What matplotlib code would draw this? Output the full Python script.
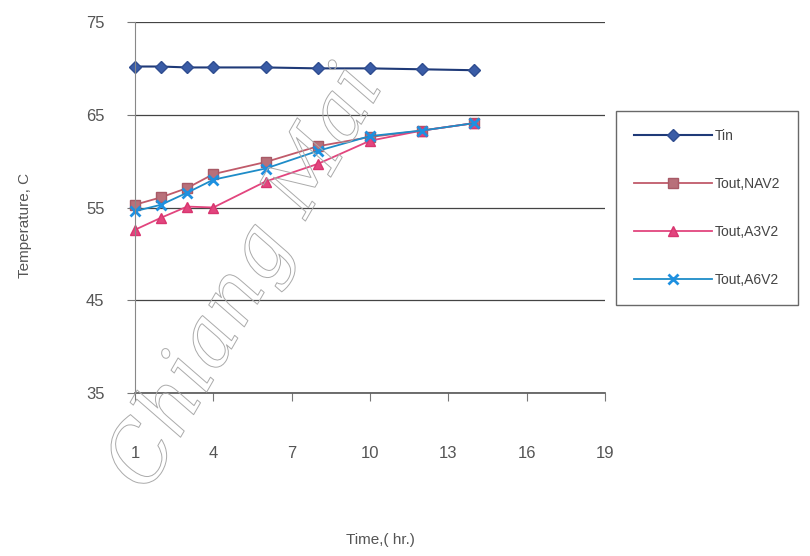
import numpy as np
import matplotlib
matplotlib.use("Agg")
import matplotlib.pyplot as plt
import matplotlib.patheffects as pe

# time, hr
time_hr = [1, 2, 3, 4, 6, 8, 10, 12, 14]
t_in = [70.2, 70.2, 70.1, 70.1, 70.1, 70.0, 70.0, 69.9, 69.8]
t_nav2 = [55.3, 56.1, 57.1, 58.6, 59.9, 61.6, 62.6, 63.3, 64.1]
t_a3v2 = [52.6, 53.9, 55.1, 55.0, 57.8, 59.7, 62.2, 63.3, 64.1]
t_a6v2 = [54.6, 55.3, 56.6, 58.0, 59.2, 61.1, 62.7, 63.3, 64.1]

x_ticks = [1, 4, 7, 10, 13, 16, 19]
y_ticks = [35, 45, 55, 65, 75]

plt.rcParams['font.family'] = ['Liberation Sans', 'DejaVu Sans']
txt = '#555555'

fig = plt.figure(figsize=(8.1, 5.56), dpi=100)
ax = fig.add_axes([135 / 810, 1 - 393 / 556, 470 / 810, 371 / 556])

ax.plot(time_hr, t_in, color='#1F3A78', marker='D', markersize=6,
        markerfacecolor='#3A5CA6', markeredgecolor='#2F4D90', lw=1.5,
        label='Tin', clip_on=False)
ax.plot(time_hr, t_nav2, color='#C05A6A', marker='s', markersize=7,
        markerfacecolor='#B8707A', markeredgecolor='#A85A66', lw=1.3,
        label='Tout,NAV2', clip_on=False)
ax.plot(time_hr, t_a3v2, color='#E2457E', marker='^', markersize=7,
        markerfacecolor='#E2457E', markeredgecolor='#D8356F', lw=1.3,
        label='Tout,A3V2', clip_on=False)
ax.plot(time_hr, t_a6v2, color='#1E8CC8', marker='x', markersize=7,
        markeredgewidth=2, markeredgecolor='#1E90E0', lw=1.3,
        label='Tout,A6V2', clip_on=False)

ax.set_xlim(1, 19)
ax.set_ylim(35, 75)
ax.set_xticks(x_ticks)
ax.set_yticks(y_ticks)
ax.yaxis.grid(True, color='#444444', lw=0.9)
ax.set_axisbelow(True)
for s in ['top', 'right']:
    ax.spines[s].set_visible(False)
ax.spines['left'].set_color('#888888')
ax.spines['bottom'].set_color('#555555')
ax.spines['bottom'].set_linewidth(1.2)
ax.tick_params(axis='x', direction='out', length=6, pad=32, colors='#777777',
               labelcolor=txt, labelsize=12)
ax.tick_params(axis='y', direction='out', length=6, pad=16, colors='#777777',
               labelcolor=txt, labelsize=12)

fig.text(380 / 810, 1 - 540 / 556, 'Time,( hr.)', ha='center', va='center',
         color=txt, fontsize=11)
fig.text(25 / 810, 1 - 225 / 556, 'Temperature, C', ha='center', va='center',
         rotation=90, color=txt, fontsize=11)

leg = fig.legend(loc='upper left', bbox_to_anchor=(616 / 810, 1 - 111 / 556),
                 frameon=True, fancybox=False, fontsize=10, labelspacing=2.45,
                 handlelength=5.6, borderpad=1.3, handletextpad=0.2,
                 borderaxespad=0)
leg.get_frame().set_edgecolor('#444444')
leg.get_frame().set_linewidth(1)
for t in leg.get_texts():
    t.set_color('#444444')

# watermark
fig.text(95 / 810, 1 - 485 / 556, 'Chiang Mai', rotation=60, fontsize=58,
         family='DejaVu Serif', style='italic', color='none', ha='left', va='baseline',
         path_effects=[pe.Stroke(linewidth=0.7, foreground='#aaaaaa')], zorder=5)

plt.savefig('out.png', dpi=100)
